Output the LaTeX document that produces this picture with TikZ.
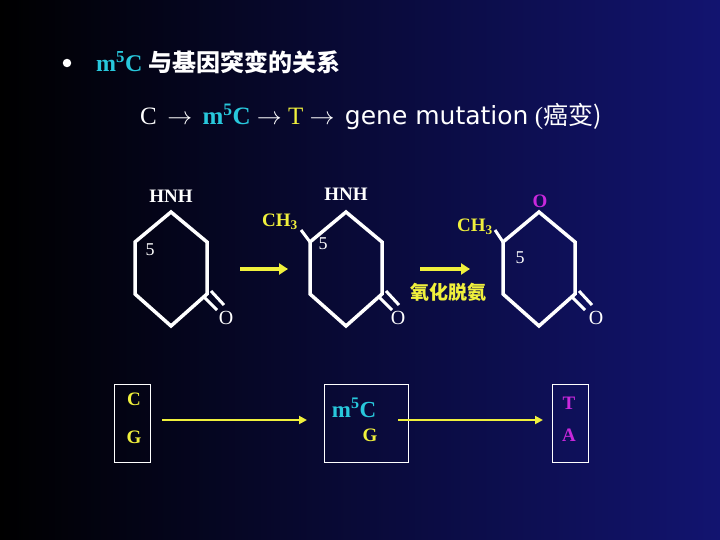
\documentclass[tikz,border=0pt]{standalone}
\usepackage{fontspec}
\usetikzlibrary{calc,arrows.meta}
\setmainfont{Liberation Serif}
\newfontfamily\cjk{Noto Sans CJK SC}
\newfontfamily\gsans{DejaVu Sans}
\definecolor{bgb}{RGB}{18,20,112}
\definecolor{cy}{RGB}{40,200,220}
\definecolor{yl}{RGB}{240,240,60}
\definecolor{mg}{RGB}{200,40,220}
\begin{document}
\begin{tikzpicture}[x=1pt,y=-1pt,
  ring/.style={draw=white,line width=3.5pt,line join=miter},
  lbl/.style={text=white,font=\bfseries\fontsize{19}{20}\selectfont,inner sep=0pt},
  yarr/.style={draw=yl,line width=4.5pt,-{Triangle[length=9pt,width=11pt]}},
  tarr/.style={draw=yl,line width=2.5pt,-{Triangle[length=8pt,width=8pt]}},
  box/.style={draw=white,line width=1pt}]
\shade[left color=black,right color=bgb] (0,0) rectangle (720,540);
\useasboundingbox (0,0) rectangle (720,540);
% title
\node[circle,fill=white,inner sep=3pt] (bul) at (67,63) {};
\node[anchor=west,inner sep=0pt] (t1) at (96,62) {\fontsize{24}{26}\selectfont\bfseries\textcolor{cy}{m\textsuperscript{5}C} \textcolor{white}{\cjk 与基因突变的关系}};
\node[anchor=west,inner sep=0pt,text=white] (t2) at (140,117) {\fontsize{25}{26}\selectfont C\, $\rightarrow$\, \textcolor{cy}{\bfseries m\textsuperscript{5}C} $\rightarrow$ \textcolor{yl}{T} $\rightarrow$\, {\gsans gene mutation} (\cjk 癌变)};
% rings
\foreach \cx/\n in {171/a,346/b,539/c}{
  \draw[ring] (\cx,212) coordinate (\n1) -- (\cx+36,242) -- (\cx+36,294) coordinate (\n4) -- (\cx,326) -- (\cx-36,294) -- (\cx-36,242) coordinate (\n6) -- cycle;
  \draw[white,line width=3pt] ($(\n4)+(-3,3)$) -- ($(\n4)+(10,16)$);
  \draw[white,line width=3pt] ($(\n4)+(4,-3)$) -- ($(\n4)+(17,11)$);
}
\node[lbl] (h1) at (171,196) {HNH};
\node[lbl] (h2) at (346,194) {HNH};
\node[lbl,text=mg] (o3) at (540,201) {O};
\node[lbl,font=\fontsize{18}{20}\selectfont] (f1) at (150,250) {5};
\node[lbl,font=\fontsize{18}{20}\selectfont] (f2) at (323,244) {5};
\node[lbl,font=\fontsize{18}{20}\selectfont] (f3) at (520,258) {5};
\node[lbl,font=\fontsize{20}{20}\selectfont] (oa) at (226,318) {O};
\node[lbl,font=\fontsize{20}{20}\selectfont] (ob) at (398,318) {O};
\node[lbl,font=\fontsize{20}{20}\selectfont] (oc) at (596,318) {O};
\node[lbl,text=yl] (cb) at (280,222) {CH\textsubscript{3}};
\node[lbl,text=yl] (cc) at (475,227) {CH\textsubscript{3}};
\draw[white,line width=3pt] (b6) -- (301,230);
\draw[white,line width=3pt] (c6) -- (495,230);
\coordinate (a1s) at (240,269); \coordinate (a1e) at (288,269);
\coordinate (a2s) at (420,269); \coordinate (a2e) at (470,269);
\draw[yarr] (a1s) -- (a1e);
\draw[yarr] (a2s) -- (a2e);
\node[text=yl,font=\cjk\bfseries\fontsize{19}{20}\selectfont,inner sep=0pt] (ox) at (448,292) {氧化脱氨};
% boxes
\node[box,minimum width=36pt,minimum height=78pt] (B1) at (132,423) {};
\node[box,minimum width=84pt,minimum height=78pt] (B2) at (366,423) {};
\node[box,minimum width=36pt,minimum height=78pt] (B3) at (570,423) {};
\node[lbl,text=yl] (c1) at (134,399) {C};
\node[lbl,text=yl] (g1) at (134,437) {G};
\node[lbl,text=cy,font=\bfseries\fontsize{23}{24}\selectfont] (m2) at (354,408) {m\textsuperscript{5}C};
\node[lbl,text=yl] (g2) at (370,435) {G};
\node[lbl,text=mg] (t3) at (569,403) {T};
\node[lbl,text=mg] (a3) at (569,435) {A};
\draw[tarr] (162,420) -- (307,420);
\draw[tarr] (398,420) -- (543,420);
\end{tikzpicture}
\end{document}
